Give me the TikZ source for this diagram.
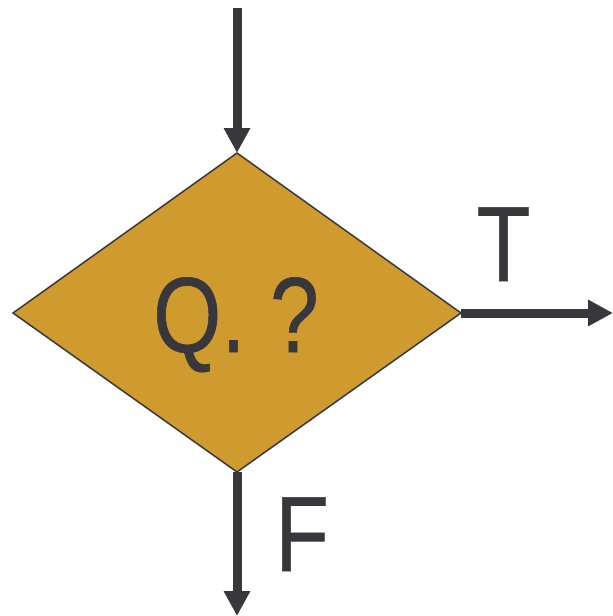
\documentclass[tikz,border=0pt]{standalone}
\usepackage{fontspec}
\setmainfont{Liberation Sans}
\newfontfamily\lblfont[FakeBold=0.6]{Liberation Sans}
\usetikzlibrary{arrows.meta}
\definecolor{ink}{HTML}{38373C}
\definecolor{gold}{HTML}{CF9A2E}
\newcommand{\cond}[1]{\scalebox{0.82}[1]{#1}}
\begin{document}
\begin{tikzpicture}[x=1pt,y=-1pt,
  conn/.style={draw=ink,line width=9pt,-{Triangle[length=25pt,width=25pt]}},
  lbl/.style={text=ink,inner sep=0pt,anchor=base,font=\lblfont\fontsize{107}{107}\selectfont}]
\useasboundingbox (0,0) rectangle (613,616);
\coordinate (top) at (237,153);
\coordinate (right) at (461,313);
\coordinate (bottom) at (237,472);
\coordinate (left) at (13,313);
\coordinate (start) at (237,8);
\coordinate (tend) at (613,313);
\coordinate (fend) at (237,616);
\filldraw[fill=gold,draw=ink,line width=1.5pt,line join=miter] (top) -- (right) -- (bottom) -- (left) -- cycle;
\node[lbl] (q) at (236,352) {\cond{Q. ?}};
\draw[conn] (start) -- (top);
\draw[conn] (right) -- (tend);
\draw[conn] (bottom) -- (fend);
\node[lbl] (t) at (503.5,281) {\cond{T}};
\node[lbl] (f) at (302,571) {\cond{F}};
\end{tikzpicture}
\end{document}
